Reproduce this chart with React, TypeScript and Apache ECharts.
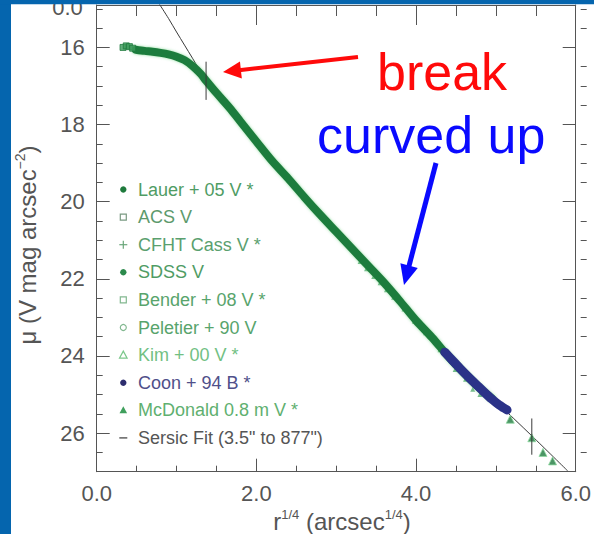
import { useEffect, useRef } from "react";
import * as echarts from "echarts";

// Combined V-band surface-brightness profile: r^(1/4) in arcsec^(1/4), mu in V mag arcsec^-2
const lauerR = [0.49, 0.6, 0.7, 0.8, 0.9, 1.0, 1.1, 1.2, 1.3, 1.37, 1.5, 1.67, 1.8, 2.0, 2.2, 2.4, 2.6, 2.8, 3.0, 3.2, 3.4, 3.6, 3.8, 4.0, 4.2, 4.4, 4.6, 4.8, 4.95];
const lauerMu = [16.06, 16.09, 16.11, 16.14, 16.18, 16.24, 16.33, 16.48, 16.68, 16.86, 17.18, 17.58, 17.92, 18.44, 18.95, 19.4, 19.88, 20.34, 20.78, 21.22, 21.66, 22.1, 22.58, 23.08, 23.52, 24.0, 24.44, 24.84, 25.1];

// innermost HST points
const acsR = [0.33, 0.37, 0.41, 0.45];
const acsMu = [16.0, 15.96, 15.98, 16.02];

// Coon + 94 B (shifted to V)
const coonR = [4.36, 4.45, 4.55, 4.65, 4.75, 4.85, 4.95, 5.04, 5.1, 5.14];
const coonMu = [23.9, 24.1, 24.32, 24.53, 24.73, 24.93, 25.12, 25.27, 25.35, 25.4];

// Kim + 00 V
const kimR = [3.3, 3.38, 3.47, 3.55, 3.63, 3.72, 3.85, 3.98, 4.12, 4.3, 4.49, 4.62, 4.71, 4.8];
const kimMu = [21.55, 21.74, 21.94, 22.1, 22.28, 22.48, 22.78, 23.1, 23.4, 23.84, 24.35, 24.6, 24.86, 25.0];

// McDonald 0.8 m V, outer halo
const mcdR = [5.18, 5.45, 5.59, 5.71];
const mcdMu = [25.64, 26.12, 26.5, 26.72];

// Sersic fit
const sersicR = [0.78, 0.9, 1.0, 1.1, 1.2, 1.37, 1.5, 1.7, 2.0, 2.5, 3.0, 3.5, 4.0, 4.5, 5.0, 5.45, 5.9];
const sersicMu = [14.86, 15.25, 15.6, 15.94, 16.28, 16.86, 17.22, 17.7, 18.44, 19.64, 20.8, 21.9, 23.05, 24.18, 25.18, 26.07, 26.98];

// fit range limits: 3.5" and 877"
const fitLimitR = [1.37, 5.45];
const fitLimitTop = [16.37, 25.62];
const fitLimitBottom = [17.36, 26.56];

const yMajor = [16, 18, 20, 22, 24, 26];
const yMinor = [15, 15.5, 16.5, 17, 17.5, 18.5, 19, 19.5, 20.5, 21, 21.5, 22.5, 23, 23.5, 24.5, 25, 25.5, 26.5];

const legendLabels = [
  "Lauer + 05 V *",
  "ACS V",
  "CFHT Cass V *",
  "SDSS V",
  "Bender + 08 V *",
  "Peletier + 90 V",
  "Kim + 00 V *",
  "Coon + 94 B *",
  "McDonald 0.8 m V *",
  'Sersic Fit (3.5" to 877")',
];
const legendSymbols = ["dot", "square", "plus", "dot", "square", "ring", "triOpen", "dot", "triFill", "dash"];
const legendTextColors = ["#4f9c64", "#5c9a6c", "#5aa06e", "#4f9c64", "#58a46c", "#58a46c", "#72bf83", "#50508a", "#5fb070", "#555555"];
const legendSymbolColors = ["#1e7a3c", "#7a9a82", "#6aa67a", "#2c8a4c", "#82b890", "#82b890", "#7cc88c", "#2e2e6e", "#3f9f5c", "#555555"];

const FONT = '"Liberation Sans", Arial, sans-serif';
const AXIS = "#555555";

const pairs = (xs: number[], ys: number[]) => xs.map((x, i) => [x, ys[i]]);

function legendSymbol(kind: string, cx: number, cy: number, color: string): any[] {
  switch (kind) {
    case "dot":
      return [{ type: "circle", shape: { cx, cy, r: 3.2 }, style: { fill: color } }];
    case "square":
      return [{ type: "rect", shape: { x: cx - 3, y: cy - 3, width: 6, height: 6 }, style: { fill: "none", stroke: color, lineWidth: 1.2 } }];
    case "ring":
      return [{ type: "circle", shape: { cx, cy, r: 3 }, style: { fill: "none", stroke: color, lineWidth: 1.2 } }];
    case "plus":
      return [
        { type: "line", shape: { x1: cx - 4, y1: cy, x2: cx + 4, y2: cy }, style: { stroke: color, lineWidth: 1.2 } },
        { type: "line", shape: { x1: cx, y1: cy - 4, x2: cx, y2: cy + 4 }, style: { stroke: color, lineWidth: 1.2 } },
      ];
    case "triOpen":
      return [{ type: "polygon", shape: { points: [[cx, cy - 4], [cx + 3.8, cy + 3], [cx - 3.8, cy + 3]] }, style: { fill: "none", stroke: color, lineWidth: 1.2 } }];
    case "triFill":
      return [{ type: "polygon", shape: { points: [[cx, cy - 4], [cx + 3.8, cy + 3], [cx - 3.8, cy + 3]] }, style: { fill: color } }];
    default:
      return [{ type: "line", shape: { x1: cx - 4, y1: cy, x2: cx + 4, y2: cy }, style: { stroke: color, lineWidth: 1.4 } }];
  }
}

function arrow(x1: number, y1: number, x2: number, y2: number, color: string, width: number, headLen: number, headHalf: number): any[] {
  const dx = x2 - x1;
  const dy = y2 - y1;
  const len = Math.hypot(dx, dy);
  const ux = dx / len;
  const uy = dy / len;
  const bx = x2 - ux * headLen;
  const by = y2 - uy * headLen;
  const px = -uy;
  const py = ux;
  return [
    { type: "line", z: 50, shape: { x1, y1, x2: bx + ux * 2, y2: by + uy * 2 }, style: { stroke: color, lineWidth: width } },
    {
      type: "polygon",
      z: 50,
      shape: { points: [[x2, y2], [bx + px * headHalf, by + py * headHalf], [bx - px * headHalf, by - py * headHalf]] },
      style: { fill: color },
    },
  ];
}

export default function App() {
  const ref = useRef<HTMLDivElement>(null);

  useEffect(() => {
    if (!ref.current) return;
    const chart = echarts.init(ref.current, null, { renderer: "svg" });

    const legendX = 123.3;
    const legendTop = 189.5;
    const legendStep = 27.6;
    const legendEls: any[] = [];
    legendLabels.forEach((label, i) => {
      const cy = legendTop + i * legendStep;
      legendEls.push(...legendSymbol(legendSymbols[i], legendX, cy, legendSymbolColors[i]));
      legendEls.push({
        type: "text",
        x: 138,
        y: cy,
        style: { text: label, fill: legendTextColors[i], font: `18px ${FONT}`, align: "left", verticalAlign: "middle" },
      });
    });

    const lineStyleAxis = { color: AXIS, width: 1 };

    chart.setOption({
      animation: false,
      backgroundColor: "#ffffff",
      grid: [
        { left: 96.7, right: 7.3, top: 5, bottom: 62.3 },
        { left: 96.7, right: 7.3, top: 5, bottom: 62.3 },
      ],
      xAxis: [
        {
          gridIndex: 0,
          type: "value",
          position: "bottom",
          min: 0,
          max: 6,
          interval: 2,
          axisLine: { show: true, onZero: false, lineStyle: lineStyleAxis },
          axisTick: { show: true, inside: true, length: 13, lineStyle: lineStyleAxis },
          minorTick: { show: true, splitNumber: 4, length: 6, lineStyle: lineStyleAxis },
          splitLine: { show: false },
          minorSplitLine: { show: false },
          axisLabel: { formatter: (v: number) => v.toFixed(1), fontSize: 22, fontFamily: FONT, color: AXIS, margin: 11 },
        },
        {
          gridIndex: 0,
          type: "value",
          position: "top",
          min: 0,
          max: 6,
          interval: 2,
          axisLine: { show: true, onZero: false, lineStyle: lineStyleAxis },
          axisTick: { show: true, inside: true, length: 20, lineStyle: lineStyleAxis },
          minorTick: { show: true, splitNumber: 4, length: 11, lineStyle: lineStyleAxis },
          splitLine: { show: false },
          minorSplitLine: { show: false },
          axisLabel: { show: false },
        },
        { gridIndex: 1, type: "value", min: 0, max: 6, show: false },
      ],
      yAxis: [
        {
          gridIndex: 0,
          type: "value",
          position: "left",
          inverse: true,
          min: 14.9,
          max: 27,
          axisLine: { show: true, onZero: false, lineStyle: lineStyleAxis },
          axisTick: { show: true, inside: true, length: 13, customValues: yMajor, lineStyle: lineStyleAxis },
          axisLabel: { customValues: yMajor, fontSize: 22, fontFamily: FONT, color: AXIS, margin: 12 },
          splitLine: { show: false },
        },
        {
          gridIndex: 0,
          type: "value",
          position: "right",
          inverse: true,
          min: 14.9,
          max: 27,
          axisLine: { show: true, onZero: false, lineStyle: lineStyleAxis },
          axisTick: { show: true, inside: true, length: 13, customValues: yMajor, lineStyle: lineStyleAxis },
          axisLabel: { show: false },
          splitLine: { show: false },
        },
        {
          gridIndex: 1,
          type: "value",
          position: "left",
          inverse: true,
          min: 14.9,
          max: 27,
          axisLine: { show: false, onZero: false },
          axisTick: { show: true, inside: true, length: 6, customValues: yMinor, lineStyle: lineStyleAxis },
          axisLabel: { show: false },
          splitLine: { show: false },
        },
        {
          gridIndex: 1,
          type: "value",
          position: "right",
          inverse: true,
          min: 14.9,
          max: 27,
          axisLine: { show: false, onZero: false },
          axisTick: { show: true, inside: true, length: 6, customValues: yMinor, lineStyle: lineStyleAxis },
          axisLabel: { show: false },
          splitLine: { show: false },
        },
      ],
      series: [
        {
          name: "Sersic Fit",
          type: "line",
          xAxisIndex: 0,
          yAxisIndex: 0,
          data: pairs(sersicR, sersicMu),
          showSymbol: false,
          smooth: 0.3,
          lineStyle: { color: "#3a3a3a", width: 1 },
          z: 2,
        },
        {
          name: "Kim + 00 V",
          type: "scatter",
          xAxisIndex: 0,
          yAxisIndex: 0,
          data: pairs(kimR, kimMu),
          symbol: "triangle",
          symbolSize: 5,
          itemStyle: { color: "#3fa05c", opacity: 0.7 },
          z: 2,
        },
        {
          name: "Lauer + 05 V",
          type: "line",
          xAxisIndex: 0,
          yAxisIndex: 0,
          data: pairs(lauerR, lauerMu),
          showSymbol: false,
          smooth: 0.3,
          lineStyle: { color: "#1f7b3e", width: 8, cap: "round", join: "round", shadowBlur: 3, shadowColor: "rgba(70,200,100,0.6)" },
          z: 3,
        },
        {
          name: "ACS V",
          type: "scatter",
          xAxisIndex: 0,
          yAxisIndex: 0,
          data: pairs(acsR, acsMu),
          symbol: "rect",
          symbolSize: 6,
          itemStyle: { color: "#3c9a5a", borderColor: "#1f7b3e", borderWidth: 1 },
          z: 4,
        },
        {
          name: "Coon + 94 B",
          type: "line",
          xAxisIndex: 0,
          yAxisIndex: 0,
          data: pairs(coonR, coonMu),
          showSymbol: false,
          smooth: 0.3,
          lineStyle: { color: "#2b3288", width: 9, cap: "round", join: "round" },
          z: 5,
        },
        {
          name: "McDonald 0.8 m V",
          type: "scatter",
          xAxisIndex: 0,
          yAxisIndex: 0,
          data: pairs(mcdR, mcdMu),
          symbol: "triangle",
          symbolSize: 8,
          itemStyle: { color: "#1f7b3e", borderColor: "#8fd8a0", borderWidth: 1 },
          z: 5,
        },
        ...fitLimitR.map((r, i) => ({
          name: "fit limit",
          type: "line",
          xAxisIndex: 0,
          yAxisIndex: 0,
          data: [
            [r, fitLimitTop[i]],
            [r, fitLimitBottom[i]],
          ],
          showSymbol: false,
          lineStyle: { color: "#3a3a3a", width: 1 },
          z: 6,
        })),
      ],
      graphic: {
        elements: [
          ...legendEls,
          // residual-panel label peeking in above the frame
          { type: "text", x: 67.5, y: 7.5, z: 1, style: { text: "0.0", font: `22px ${FONT}`, fill: AXIS, align: "center", verticalAlign: "middle" } },
          {
            type: "text",
            x: 342,
            y: 521,
            style: {
              text: "{n|r}{s|1/4}{n| (arcsec}{s|1/4}{n|)}",
              align: "center",
              verticalAlign: "middle",
              rich: {
                n: { fontSize: 24, fontFamily: FONT, fill: AXIS, lineHeight: 26 },
                s: { fontSize: 13, fontFamily: FONT, fill: AXIS, verticalAlign: "top", lineHeight: 13 },
              },
            },
          },
          {
            type: "text",
            x: 27,
            y: 245,
            rotation: Math.PI / 2,
            style: {
              text: "{n|μ (V mag arcsec}{s|−2}{n|)}",
              align: "center",
              verticalAlign: "middle",
              rich: {
                n: { fontSize: 24, fontFamily: FONT, fill: AXIS, lineHeight: 28 },
                s: { fontSize: 14, fontFamily: FONT, fill: AXIS, verticalAlign: "top", lineHeight: 14 },
              },
            },
          },
          { type: "text", x: 377, y: 72, z: 50, style: { text: "break", font: `52px ${FONT}`, fill: "#ff0a0a", align: "left", verticalAlign: "middle" } },
          { type: "text", x: 317, y: 135, z: 50, style: { text: "curved up", font: `52px ${FONT}`, fill: "#0a0aff", align: "left", verticalAlign: "middle" } },
          ...arrow(358, 57, 223, 72, "#ff0a0a", 4, 18, 8.5),
          ...arrow(436, 163, 404, 285, "#0a0aff", 5, 20, 9),
          // slide frame
          { type: "rect", z: 100, shape: { x: 0, y: 0, width: 11, height: 534 }, style: { fill: "#0565ae" } },
          { type: "rect", z: 100, shape: { x: 0, y: 0, width: 594, height: 4.3 }, style: { fill: "#0565ae" } },
        ],
      },
    });

    return () => chart.dispose();
  }, []);

  return <div ref={ref} style={{ position: "absolute", left: 0, top: 0, width: 594, height: 534 }} />;
}
